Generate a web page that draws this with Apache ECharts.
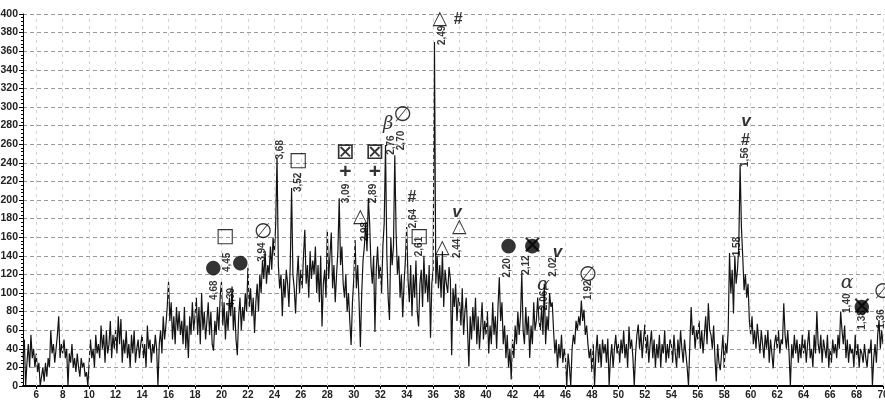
<!DOCTYPE html>
<html><head><meta charset="utf-8">
<script src="https://cdn.jsdelivr.net/npm/echarts@6/dist/echarts.min.js"></script>
<style>html,body{margin:0;padding:0;background:#fff}#c{width:885px;height:401px}</style>
</head><body><div id="c"></div>
<script>
// 2θ grid: first angle and step (degrees)
const startAngle = 5;
const stepAngle = 0.1;

// Intensity, 10 values per degree
const intensity05to17 = [
  30, 50, 0, 25, 45, 20, 55, 30, 40, 20,
  35, 15, 25, 0, 0, 20, 5, 25, 10, 30,
  20, 60, 35, 45, 25, 40, 55, 75, 30, 45,
  35, 50, 30, 40, 0, 35, 25, 45, 20, 30,
  15, 35, 20, 10, 30, 20, 25, 10, 15, 0,
  25, 50, 30, 40, 20, 55, 35, 45, 30, 65,
  40, 55, 25, 60, 35, 45, 70, 30, 55, 40,
  60, 35, 75, 45, 72, 25, 50, 35, 60, 30,
  45, 20, 55, 35, 60, 25, 40, 50, 30, 45,
  55, 30, 45, 20, 65, 40, 50, 25, 45, 35,
  55, 40, 0, 45, 60, 35, 75, 50, 65, 85,
  112, 70, 90, 50, 75, 45, 85, 60, 80, 55,
  70, 45, 85, 40, 65, 30, 75, 55, 90, 60
];
const intensity18to31 = [
  75, 95, 55, 85, 45, 100, 60, 80, 50, 70,
  90, 55, 80, 45, 38, 70, 55, 85, 60, 95,
  112, 65, 90, 50, 80, 60, 95, 75, 107, 60,
  85, 50, 33, 75, 95, 60, 85, 70, 100, 80,
  127, 85, 105, 75, 95, 57, 90, 110, 80, 120,
  100, 135, 115, 145, 110, 130, 120, 150, 125, 160,
  140, 175, 246, 130, 105, 120, 75, 115, 95, 125,
  110, 85, 130, 213, 120, 105, 78, 115, 140, 100,
  125, 105, 140, 168, 110, 130, 95, 145, 115, 135,
  120, 150, 100, 130, 90, 140, 64, 110, 125, 95,
  168, 115, 140, 165, 105, 130, 90, 120, 145, 202,
  130, 150, 110, 95, 120, 80, 100, 70, 44, 90,
  115, 157, 105, 130, 90, 42, 100, 135, 150, 175,
  145, 202, 175, 130, 110, 140, 58, 125, 150, 115
];
const intensity32to44 = [
  130, 100, 150, 175, 259, 140, 95, 71, 160, 130,
  150, 248, 165, 120, 140, 95, 120, 74, 110, 135,
  171, 115, 90, 130, 75, 120, 95, 135, 80, 64,
  110, 125, 85, 140, 100, 120, 90, 130, 52, 110,
  125, 370, 110, 140, 105, 130, 95, 145, 85, 125,
  110, 100, 128, 115, 33, 105, 85, 110, 70, 95,
  90, 65, 105, 55, 80, 95, 60, 21, 75, 50,
  85, 60, 95, 45, 75, 40, 65, 90, 50, 70,
  55, 80, 35, 65, 45, 90, 55, 75, 40, 85,
  117, 70, 90, 45, 65, 30, 55, 20, 40, 7,
  50, 30, 65, 45, 80, 55, 75, 121, 60, 45,
  85, 55, 75, 30, 65, 45, 90, 60, 70, 95,
  70, 60, 85, 55, 110, 45, 75, 60, 100, 85
];
const intensity45to57 = [
  90, 60, 35, 50, 20, 45, 30, 55, 25, 40,
  30, 0, 35, 20, 0, 40, 55, 45, 70, 60,
  75, 65, 92, 70, 82, 55, 65, 45, 30, 40,
  15, 45, 0, 35, 55, 25, 45, 20, 50, 35,
  45, 25, 51, 0, 30, 45, 20, 40, 55, 35,
  45, 25, 50, 35, 60, 30, 45, 20, 64, 40,
  50, 30, 0, 35, 55, 66, 40, 60, 30, 50,
  66, 35, 55, 25, 45, 60, 30, 50, 20, 45,
  30, 55, 20, 45, 35, 60, 25, 45, 30, 50,
  45, 25, 55, 35, 20, 50, 30, 60, 40, 25,
  50, 35, 20, 0, 45, 85, 55, 65, 40, 60,
  50, 70, 40, 60, 35, 55, 75, 45, 89, 60,
  55, 40, 65, 30, 5, 45, 25, 17, 35, 55
];
const intensity58to70 = [
  20, 46, 35, 60, 143, 100, 125, 78, 140, 110,
  125, 150, 238, 170, 139, 103, 120, 95, 110, 70,
  55, 75, 45, 60, 40, 67, 50, 35, 60, 45,
  30, 55, 40, 60, 25, 50, 35, 19, 45, 55,
  40, 60, 35, 50, 45, 89, 55, 40, 60, 35,
  0, 45, 30, 55, 35, 50, 25, 45, 30, 55,
  35, 50, 25, 45, 60, 30, 40, 20, 55, 35,
  80, 45, 35, 55, 25, 50, 40, 30, 55, 20,
  40, 25, 50, 35, 45, 30, 55, 40, 80, 60,
  45, 65, 30, 50, 25, 45, 35, 40, 20, 55,
  30, 45, 20, 40, 35, 25, 45, 30, 20, 40,
  35, 50, 0, 30, 45, 25, 55, 71, 40, 60,
  45
];

// Axis tick values
const xTickValues = [6,8,10,12,14,16,18,20,22,24,26,28,30,32,34,36,38,40,42,44,46,48,50,52,54,56,58,60,62,64,66,68,70];

// d-spacing annotations: [2θ, intensity, text]
const dSpacingLabels = [
  [19.45, 103, '4,68'], [20.75, 95, '4,39'], [20.45, 133, '4,45'], [23.1, 144, '3,94'],
  [24.45, 254, '3,68'], [25.8, 219, '3,52'], [29.4, 207, '3,09'], [30.85, 166, '2,98'],
  [31.5, 207, '2,89'], [32.8, 259, '2,76'], [33.6, 264, '2,70'], [34.5, 180, '2,64'],
  [34.95, 150, '2,61'], [36.7, 377, '2,49'], [37.8, 148, '2,44'], [41.6, 127, '2,20'],
  [43.05, 130, '2,12'], [44.4, 92, '2,06'], [45.1, 128, '2,02'], [47.7, 103, '1,92'],
  [59.6, 246, '1,56'], [59.0, 150, '1,58'], [67.3, 89, '1,40'], [68.45, 71, '1,38'],
  [69.85, 72, '1,36']
];

// Phase marks: [2θ, intensity, glyph]
const phaseMarks = [
  [19.38, 127, '●'], [21.42, 132, '●'], [20.28, 160, '□'], [23.16, 165, '∅'], [25.8, 242, '□'],
  [29.37, 250, '⊠'], [29.37, 230, '+'], [31.6, 250, '⊠'], [31.6, 230, '+'], [30.5, 182, '△'],
  [32.6, 281, 'β'], [33.7, 291, '∅'], [34.4, 203, '#'], [34.94, 160, '□'],
  [36.5, 395, '△'], [37.9, 394, '#'], [36.7, 148, '△'], [37.8, 187, 'v'], [37.97, 171, '△'],
  [41.7, 150, '●'], [43.5, 150, '⊗'], [45.4, 144, 'v'], [44.33, 108, 'α'], [47.7, 119, '∅'],
  [59.65, 285, 'v'], [59.6, 264, '#'], [67.3, 111, 'α'], [68.4, 85, '⊗'], [70.0, 100, '∅']
];

const intensity = [].concat(intensity05to17, intensity18to31, intensity32to44, intensity45to57, intensity58to70);
const pattern = intensity.map((v, i) => [+(startAngle + i * stepAngle).toFixed(1), v]);

const glyphStyle = {
  '●': {fontSize: 19, fontFamily: 'DejaVu Sans'},
  '□': {fontSize: 20, fontFamily: 'DejaVu Sans'},
  '△': {fontSize: 19, fontFamily: 'DejaVu Sans'},
  '∅': {fontSize: 21, fontFamily: 'DejaVu Sans'},
  '⊠': {fontSize: 23, fontFamily: 'DejaVu Sans'},
  '+': {fontSize: 21, fontFamily: 'Liberation Sans', fontWeight: 'bold'},
  '#': {fontSize: 16, fontFamily: 'Liberation Sans', fontWeight: 'bold'},
  'v': {fontSize: 17, fontFamily: 'Liberation Sans', fontWeight: 'bold', fontStyle: 'italic'},
  'β': {fontSize: 18, fontFamily: 'DejaVu Serif', fontStyle: 'italic'},
  'α': {fontSize: 19, fontFamily: 'DejaVu Serif', fontStyle: 'italic'}
};

function glyphItem(m) {
  if (m[2] === '⊗') {
    return {value: [m[0], m[1]], label: {show: true, position: 'inside', formatter: '●', color: '#000',
      fontSize: 19, fontFamily: 'DejaVu Sans'}};
  }
  const st = glyphStyle[m[2]];
  return {value: [m[0], m[1]], label: Object.assign({show: true, position: 'inside', formatter: m[2], color: '#000'}, st)};
}
const crossItems = phaseMarks.filter(m => m[2] === '⊗').map(m => ({value: [m[0], m[1]],
  label: {show: true, position: 'inside', formatter: '×', color: '#000', fontSize: 26, fontFamily: 'DejaVu Sans'}}));

const chart = echarts.init(document.getElementById('c'), null, {renderer: 'canvas'});
chart.setOption({
  animation: false,
  backgroundColor: '#fff',
  grid: {left: 23, right: 2, top: 14, bottom: 15, containLabel: false, outerBoundsMode: 'none'},
  xAxis: {
    type: 'value', min: 5, max: 70,
    axisLine: {show: true, onZero: false, lineStyle: {color: '#000', width: 2}},
    axisTick: {show: true, customValues: xTickValues, length: 3, lineStyle: {color: '#000'}},
    axisLabel: {customValues: xTickValues, fontSize: 10, color: '#222', fontWeight: 'bold', margin: 4,
      fontFamily: 'Liberation Sans', hideOverlap: false, showMaxLabel: true},
    splitLine: {show: false}
  },
  yAxis: {
    type: 'value', min: 0, max: 400, interval: 20,
    axisLine: {show: true, lineStyle: {color: '#000', width: 1}},
    axisTick: {show: true, length: 4, lineStyle: {color: '#000'}},
    minorTick: {show: true, splitNumber: 5, length: 2, lineStyle: {color: '#000'}},
    axisLabel: {fontSize: 10.5, color: '#222', fontWeight: 'bold', margin: 5, fontFamily: 'Liberation Sans'},
    splitLine: {show: true, lineStyle: {color: '#9a9a9a', type: [4, 3], width: 1}}
  },
  series: [
    {
      type: 'line', data: pattern, showSymbol: false, symbol: 'none',
      lineStyle: {color: '#141414', width: 1.2},
      markLine: {
        silent: true, symbol: ['none', 'none'], label: {show: false},
        lineStyle: {color: '#d4d4d4', type: [3, 4], width: 1},
        data: xTickValues.map(v => ({xAxis: v}))
      },
      z: 3
    },
    {
      type: 'scatter', symbolSize: 0, z: 5,
      data: dSpacingLabels.map(d => ({value: [d[0], d[1]], label: {show: true, position: 'inside',
        formatter: d[2], rotate: 90, fontSize: 10, fontWeight: 'bold', color: '#000',
        fontFamily: 'Liberation Sans Narrow, Liberation Sans'}}))
    },
    {
      type: 'scatter', symbolSize: 0, z: 6,
      data: phaseMarks.map(glyphItem)
    },
    {
      type: 'scatter', symbolSize: 0, z: 7,
      data: crossItems
    }
  ]
});
</script>
</body></html>
